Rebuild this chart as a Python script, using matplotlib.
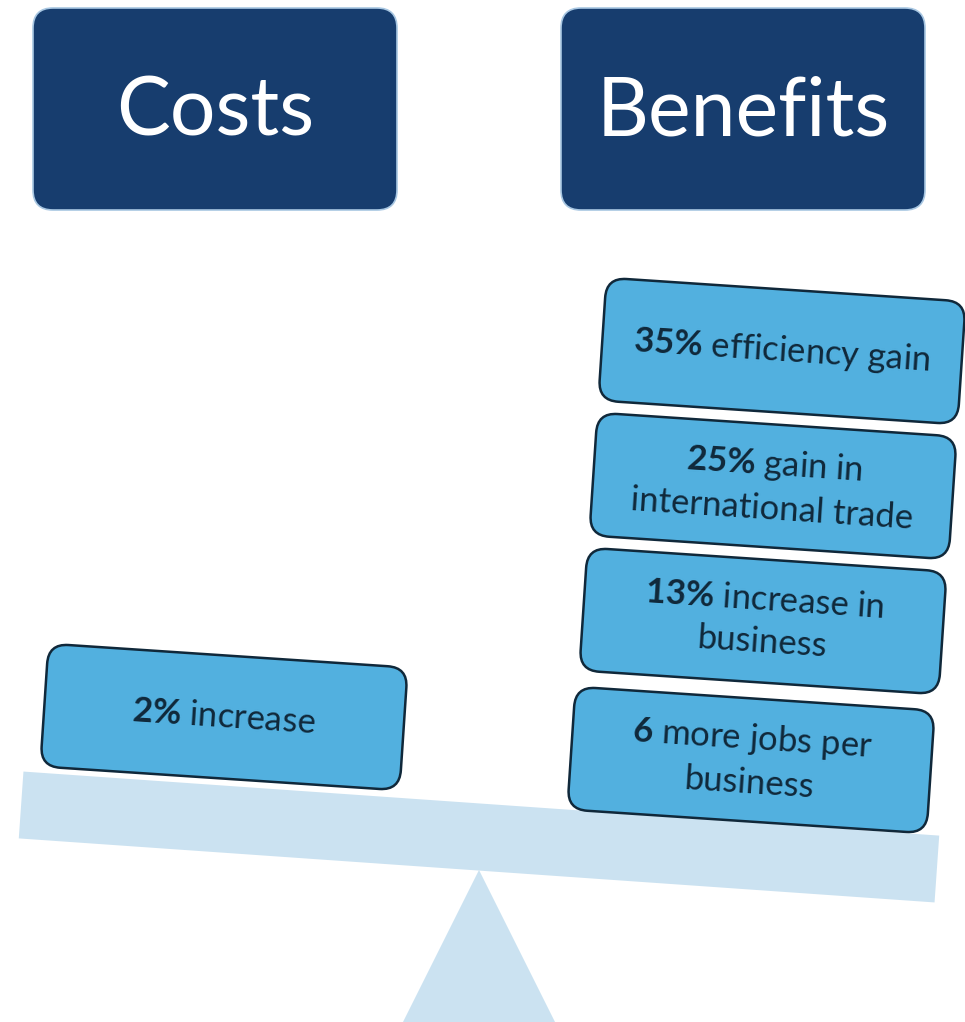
import matplotlib.pyplot as plt
from matplotlib.patches import FancyBboxPatch, Rectangle, Polygon
from matplotlib.transforms import Affine2D

plt.rcParams['font.family'] = ['Lato', 'DejaVu Sans']
plt.rcParams['mathtext.fontset'] = 'custom'
plt.rcParams['mathtext.rm'] = 'Lato'
plt.rcParams['mathtext.bf'] = 'Lato:bold'

# content
headers = ['Costs', 'Benefits']
cost_bold = ['2%']
cost_rest = [' increase']
benefit_bold = ['35%', '25%', '13%', '6']
benefit_rest = [' efficiency gain', ' gain in\ninternational trade',
                ' increase in\nbusiness', ' more jobs per\nbusiness']

# colours
dark = '#173d6e'
box_blue = '#52b0df'
light = '#cbe2f1'
ink = '#10283a'

W, H = 965, 1022
fig = plt.figure(figsize=(W / 100, H / 100), dpi=100)
ax = fig.add_axes([0, 0, 1, 1])
ax.set_xlim(0, W)
ax.set_ylim(H, 0)
ax.axis('off')

tilt = 3.8


def label(bold, rest):
    return '$\\mathbf{' + bold.replace('%', '\\%') + '}$' + rest


def tilted_box(cx, cy, text, w=360, h=123):
    p = FancyBboxPatch((cx - w / 2, cy - h / 2), w, h,
                       boxstyle='round,pad=0,rounding_size=20',
                       fc=box_blue, ec=ink, lw=1.8, zorder=3)
    p.set_transform(Affine2D().rotate_deg_around(cx, cy, tilt) + ax.transData)
    ax.add_patch(p)
    ax.text(cx, cy, text, rotation=-tilt, rotation_mode='anchor',
            ha='center', va='center', fontsize=25, color=ink,
            linespacing=1.4, zorder=4)


# header boxes
for x0, name in zip([33, 561], headers):
    ax.add_patch(FancyBboxPatch((x0, 8), 364, 202,
                                boxstyle='round,pad=0,rounding_size=20',
                                fc=dark, ec='#a8c7e2', lw=1.2))
    ax.text(x0 + 182, 135, name, ha='center', va='baseline',
            fontsize=58, color='white')

# fulcrum triangle
apex_x, apex_y = 479, 870
ax.add_patch(Polygon([(apex_x, apex_y), (apex_x - 90, 1050), (apex_x + 90, 1050)],
                     closed=True, fc=light, ec='none', zorder=1))

# beam
bx, by, bl, bt, beam_tilt = 479, 837, 918, 67, 4.0
beam = Rectangle((bx - bl / 2, by - bt / 2), bl, bt, fc=light, ec='none', zorder=2)
beam.set_transform(Affine2D().rotate_deg_around(bx, by, beam_tilt) + ax.transData)
ax.add_patch(beam)

# cost side
for b, r in zip(cost_bold, cost_rest):
    tilted_box(224, 717, label(b, r))

# benefit side, stacked
centers = [(782, 351), (773, 486), (763, 621), (751, 760)]
for (cx, cy), b, r in zip(centers, benefit_bold, benefit_rest):
    tilted_box(cx, cy, label(b, r))

fig.savefig('out.png', dpi=100, facecolor='white')
